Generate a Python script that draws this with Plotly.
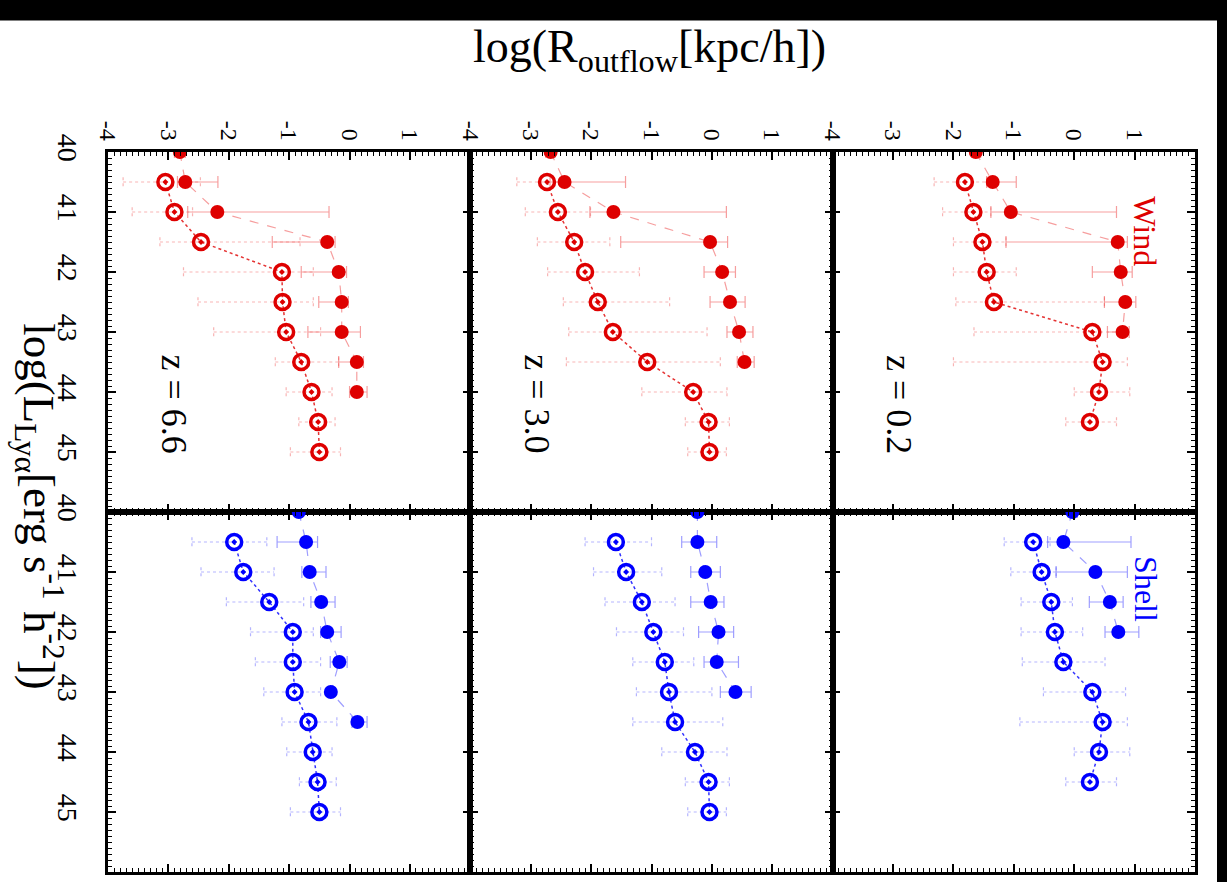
import plotly.graph_objects as go
from plotly.subplots import make_subplots

# ---------------- data ----------------
# log(L_Lya) grid values for each series; log(R_outflow) values with lower/upper bounds
# Wind (red)
w66_fill_L = [40, 40.5, 41, 41.5, 42, 42.5, 43, 43.5, 44]
w66_fill_R = [-2.81, -2.72, -2.19, -0.37, -0.18, -0.13, -0.13, 0.12, 0.12]
w66_fill_lo = [-2.90, -2.85, -2.68, -1.28, -0.80, -0.51, -0.69, -0.18, 0.00]
w66_fill_hi = [-2.72, -2.18, -0.34, -0.24, -0.05, -0.02, 0.18, 0.23, 0.29]
w66_open_L = [40.5, 41, 41.5, 42, 42.5, 43, 43.5, 44, 44.5, 45]
w66_open_R = [-3.05, -2.90, -2.46, -1.12, -1.11, -1.05, -0.80, -0.63, -0.52, -0.50]
w66_open_lo = [-3.75, -3.60, -3.14, -2.75, -2.51, -2.25, -1.23, -1.05, -0.84, -0.98]
w66_open_hi = [-2.47, -2.60, -0.82, -0.60, -0.60, -0.48, -0.18, -0.29, -0.24, -0.15]

w30_fill_L = [40, 40.5, 41, 41.5, 42, 42.5, 43, 43.5]
w30_fill_R = [-2.67, -2.44, -1.63, -0.03, 0.17, 0.30, 0.45, 0.54]
w30_fill_lo = [-2.75, -2.68, -2.02, -1.51, -0.13, -0.03, 0.25, 0.42]
w30_fill_hi = [-2.60, -1.43, 0.24, 0.26, 0.39, 0.55, 0.68, 0.70]
w30_open_L = [40.5, 41, 41.5, 42, 42.5, 43, 43.5, 44, 44.5, 45]
w30_open_R = [-2.73, -2.55, -2.28, -2.10, -1.89, -1.64, -1.07, -0.31, -0.055, -0.04]
w30_open_lo = [-3.23, -3.09, -2.89, -2.72, -2.46, -2.37, -2.41, -1.16, -0.44, -0.40]
w30_open_hi = [-2.45, -2.01, -1.69, -1.20, -0.70, -0.08, 0.14, 0.25, 0.29, 0.24]

w02_fill_L = [40, 40.5, 41, 41.5, 42, 42.5, 43]
w02_fill_R = [-1.63, -1.35, -1.05, 0.72, 0.77, 0.845, 0.80]
w02_fill_lo = [-1.70, -1.45, -1.38, -1.13, 0.30, 0.50, 0.55]
w02_fill_hi = [-1.55, -0.96, 0.70, 0.88, 0.96, 1.02, 0.91]
w02_open_L = [40.5, 41, 41.5, 42, 42.5, 43, 43.5, 44, 44.5]
w02_open_R = [-1.81, -1.67, -1.52, -1.45, -1.33, 0.30, 0.47, 0.41, 0.26]
w02_open_lo = [-2.32, -2.18, -2.00, -2.00, -1.96, -1.66, -2.00, 0.00, -0.14]
w02_open_hi = [-1.45, -1.38, -1.13, -0.96, 0.50, 0.88, 0.88, 0.92, 0.70]

# Shell (blue)
s66_fill_L = [40, 40.5, 41, 41.5, 42, 42.5, 43, 43.5]
s66_fill_R = [-0.84, -0.72, -0.66, -0.47, -0.37, -0.17, -0.31, 0.13]
s66_fill_lo = [-0.90, -1.20, -0.79, -0.64, -0.48, -0.32, -0.36, 0.04]
s66_fill_hi = [-0.78, -0.53, -0.39, -0.24, -0.14, -0.04, -0.26, 0.29]
s66_open_L = [40.5, 41, 41.5, 42, 42.5, 43, 43.5, 44, 44.5, 45]
s66_open_R = [-1.91, -1.76, -1.33, -0.94, -0.94, -0.91, -0.68, -0.61, -0.53, -0.50]
s66_open_lo = [-2.61, -2.46, -2.04, -1.64, -1.56, -1.42, -1.12, -1.04, -0.83, -0.98]
s66_open_hi = [-1.37, -1.25, -0.76, -0.60, -0.48, -0.48, -0.21, -0.29, -0.22, -0.15]

s30_fill_L = [40, 40.5, 41, 41.5, 42, 42.5, 43]
s30_fill_R = [-0.24, -0.24, -0.11, -0.02, 0.11, 0.08, 0.39]
s30_fill_lo = [-0.30, -0.50, -0.35, -0.35, -0.22, -0.13, 0.14]
s30_fill_hi = [-0.18, 0.08, 0.14, 0.20, 0.36, 0.44, 0.65]
s30_open_L = [40.5, 41, 41.5, 42, 42.5, 43, 43.5, 44, 44.5, 45]
s30_open_R = [-1.59, -1.42, -1.16, -0.97, -0.78, -0.71, -0.61, -0.28, -0.055, -0.04]
s30_open_lo = [-2.10, -1.96, -1.77, -1.58, -1.31, -1.25, -1.31, -0.83, -0.44, -0.40]
s30_open_hi = [-1.00, -0.83, -0.61, -0.47, -0.30, 0.00, 0.18, 0.25, 0.29, 0.24]

s02_fill_L = [40, 40.5, 41, 41.5, 42]
s02_fill_R = [-0.03, -0.18, 0.35, 0.59, 0.73]
s02_fill_lo = [-0.10, -0.44, -0.30, 0.25, 0.51]
s02_fill_hi = [0.05, 0.94, 0.88, 0.81, 1.07]
s02_open_L = [40.5, 41, 41.5, 42, 42.5, 43, 43.5, 44, 44.5]
s02_open_R = [-0.68, -0.54, -0.38, -0.32, -0.18, 0.30, 0.47, 0.41, 0.26]
s02_open_lo = [-1.16, -1.05, -0.88, -0.88, -0.86, -0.51, -0.90, 0.00, -0.14]
s02_open_hi = [-0.40, -0.30, -0.03, 0.14, 0.51, 0.85, 0.88, 0.92, 0.70]

redshift_labels = ["z = 6.6", "z = 3.0", "z = 0.2"]
x_tickvals = [-4, -3, -2, -1, 0, 1]
x_ticktext = ["-4", "-3", "-2", "-1", "0", "1"]
y_tickvals = [40, 41, 42, 43, 44, 45]
y_ticktext = ["40", "41", "42", "43", "44", "45"]

# ---------------- styles ----------------
RED = "rgb(222,0,0)"
RED_D = "rgba(222,0,0,0.8)"
RED_L = "rgba(235,40,40,0.45)"
RED_LL = "rgba(235,40,40,0.35)"
BLUE = "rgb(0,0,255)"
BLUE_D = "rgba(0,0,255,0.8)"
BLUE_L = "rgba(40,40,255,0.45)"
BLUE_LL = "rgba(40,40,255,0.35)"
FONT = "Liberation Serif"

panels = [
    (1, 1, RED, RED_D, RED_L, RED_LL, (w66_fill_L, w66_fill_R, w66_fill_lo, w66_fill_hi), (w66_open_L, w66_open_R, w66_open_lo, w66_open_hi)),
    (1, 2, RED, RED_D, RED_L, RED_LL, (w30_fill_L, w30_fill_R, w30_fill_lo, w30_fill_hi), (w30_open_L, w30_open_R, w30_open_lo, w30_open_hi)),
    (1, 3, RED, RED_D, RED_L, RED_LL, (w02_fill_L, w02_fill_R, w02_fill_lo, w02_fill_hi), (w02_open_L, w02_open_R, w02_open_lo, w02_open_hi)),
    (2, 1, BLUE, BLUE_D, BLUE_L, BLUE_LL, (s66_fill_L, s66_fill_R, s66_fill_lo, s66_fill_hi), (s66_open_L, s66_open_R, s66_open_lo, s66_open_hi)),
    (2, 2, BLUE, BLUE_D, BLUE_L, BLUE_LL, (s30_fill_L, s30_fill_R, s30_fill_lo, s30_fill_hi), (s30_open_L, s30_open_R, s30_open_lo, s30_open_hi)),
    (2, 3, BLUE, BLUE_D, BLUE_L, BLUE_LL, (s02_fill_L, s02_fill_R, s02_fill_lo, s02_fill_hi), (s02_open_L, s02_open_R, s02_open_lo, s02_open_hi)),
]

fig = make_subplots(rows=2, cols=3, horizontal_spacing=0, vertical_spacing=0)

CAP = 0.08
for row, col, c, cd, cl, cll, fill, opn in panels:
    fL, fR, flo, fhi = fill
    oL, oR, olo, ohi = opn
    # dotted error bars for open symbols
    ex, ey = [], []
    for L, lo, hi in zip(oL, olo, ohi):
        ex += [lo, hi, None, lo, lo, None, hi, hi, None]
        ey += [L, L, None, L - CAP, L + CAP, None, L - CAP, L + CAP, None]
    fig.add_trace(go.Scatter(x=ex, y=ey, mode="lines",
                             line=dict(color=cll, width=1.2, dash="dot"),
                             hoverinfo="skip"), row=row, col=col)
    # filled symbols with solid error bars, dashed connecting line
    fig.add_trace(go.Scatter(
        x=fR, y=fL, mode="lines+markers",
        line=dict(color=cl, width=1.2, dash="dash"),
        marker=dict(symbol="circle", size=14, color=c),
        error_x=dict(type="data", symmetric=False,
                     array=[h - r for h, r in zip(fhi, fR)],
                     arrayminus=[r - l for r, l in zip(fR, flo)],
                     color=cl, thickness=1.2, width=6),
    ), row=row, col=col)
    # open symbols with dotted connecting line
    fig.add_trace(go.Scatter(
        x=oR, y=oL, mode="lines+markers",
        line=dict(color=cd, width=1.5, dash="dot"),
        marker=dict(symbol="circle-open-dot", size=15, color=c, line=dict(width=3.5, color=c)),
    ), row=row, col=col)

for row in (1, 2):
    for col in (1, 2, 3):
        fig.update_xaxes(
            range=[-4, 2], tickvals=x_tickvals, ticktext=x_ticktext,
            ticks="inside", ticklen=8, tickwidth=1.5, tickcolor="black",
            showline=True, linewidth=2.5, linecolor="black", mirror="allticks",
            minor=dict(dtick=0.1, tick0=0, ticks="inside", ticklen=4, tickwidth=1, tickcolor="black"),
            showgrid=False, zeroline=False, tickangle=90,
            side="top", showticklabels=(row == 1),
            tickfont=dict(family=FONT, size=24, color="black"),
            row=row, col=col)
        fig.update_yaxes(
            range=[46, 40], tickvals=y_tickvals, ticktext=y_ticktext,
            ticks="inside", ticklen=8, tickwidth=1.5, tickcolor="black",
            showline=True, linewidth=2.5, linecolor="black", mirror="allticks",
            minor=dict(dtick=0.1, tick0=0, ticks="inside", ticklen=4, tickwidth=1, tickcolor="black"),
            showgrid=False, zeroline=False, tickangle=90,
            showticklabels=(col == 1), ticklabelstandoff=14,
            tickfont=dict(family=FONT, size=28, color="black"),
            row=row, col=col)

annotations = []
for i, lab in enumerate(redshift_labels):
    xr = "x" if i == 0 else "x%d" % (i + 1)
    yr = "y" if i == 0 else "y%d" % (i + 1)
    annotations.append(dict(text=lab, x=-2.9, y=44.2, xref=xr, yref=yr, showarrow=False,
                            xanchor="center", yanchor="middle",
                            textangle=90, font=dict(family=FONT, size=36, color="black")))
annotations.append(dict(text="Wind", x=1.18, y=41.33, xref="x3", yref="y3", showarrow=False,
                        xanchor="center", yanchor="middle",
                        textangle=90, font=dict(family=FONT, size=32, color=RED)))
annotations.append(dict(text="Shell", x=1.2, y=41.28, xref="x6", yref="y6", showarrow=False,
                        xanchor="center", yanchor="middle",
                        textangle=90, font=dict(family=FONT, size=32, color=BLUE)))
annotations.append(dict(text="log(R<sub>outflow</sub>[kpc/h])", x=0.4986, y=1.141,
                        xref="paper", yref="paper", showarrow=False,
                        xanchor="center", yanchor="middle",
                        font=dict(family=FONT, size=46, color="black")))
annotations.append(dict(text="log(L<sub>Lyα</sub>[erg s<sup>-1</sup> h<sup>-2</sup>])", x=-0.0626, y=0.508,
                        xref="paper", yref="paper", showarrow=False, textangle=90,
                        xanchor="center", yanchor="middle",
                        font=dict(family=FONT, size=45, color="black")))

fig.update_layout(
    width=1227, height=882,
    margin=dict(l=108, r=32, t=152, b=7),
    paper_bgcolor="black", plot_bgcolor="white",
    showlegend=False,
    annotations=annotations,
    shapes=[dict(type="rect", xref="paper", yref="paper",
                 x0=-0.1, x1=1.02024, y0=-0.03, y1=1.18257,
                 fillcolor="white", line=dict(width=0), layer="below")],
)

fig.write_html("out.html", config={"displayModeBar": False},
               post_script="document.body.style.margin='0px';")
